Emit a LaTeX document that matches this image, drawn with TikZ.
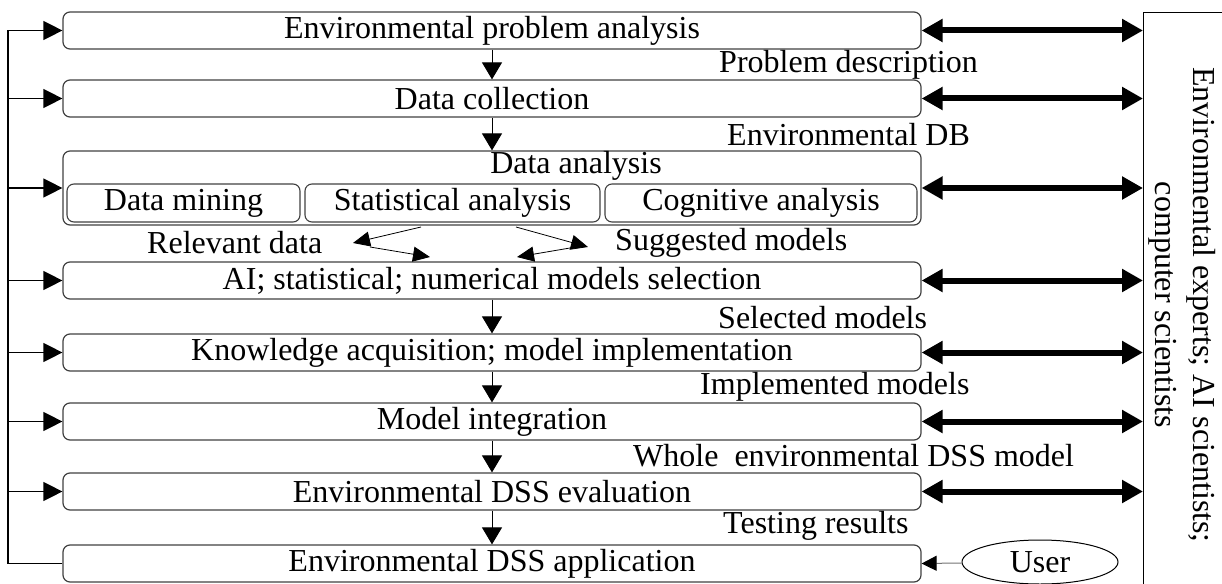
\documentclass[tikz,border=0pt]{standalone}
\usepackage{fontspec}
\setmainfont{Liberation Serif}
\usetikzlibrary{arrows.meta,shapes.geometric}
\begin{document}
\begin{tikzpicture}[x=1pt,y=-1pt,
  every node/.style={font=\fontsize{32}{38}\selectfont, inner sep=0pt},
  stage/.style={draw=black!75, line width=1.2pt, rounded corners=7pt,
    minimum width=858pt, minimum height=37pt},
  sub/.style={draw=black!75, line width=1.1pt, rounded corners=7pt, minimum height=38pt},
  flow/.style={line width=1pt, -{Triangle[length=17pt,width=20pt]}},
  back/.style={line width=1.3pt, -{Triangle[length=19pt,width=19pt]}},
  link/.style={line width=6pt, {Triangle[length=21pt,width=22pt]}-{Triangle[length=21pt,width=22pt]}},
  hint/.style={line width=0.8pt, -{Triangle[length=17pt,width=15pt]}},
  lbl/.style={anchor=west}]
\useasboundingbox (0,0) rectangle (1222,583);
\clip (0,0) rectangle (1222,583);

% main stages
\node[stage] (b1) at (492,30.5)  {Environmental problem analysis};
\node[stage] (b2) at (492,98.5)  {Data collection};
\node[stage, minimum height=74pt] (b3) at (492,188) {};
\node (b3t) at (576,166) {Data analysis};
\node[sub, minimum width=233pt] (s1) at (183.5,203) {Data mining};
\node[sub, minimum width=295pt] (s2) at (452.5,203) {Statistical analysis};
\node[sub, minimum width=312pt] (s3) at (761,203)   {Cognitive analysis};
\node[stage] (b4) at (492,280.5) {AI; statistical; numerical models selection};
\node[stage] (b5) at (492,352.5) {Knowledge acquisition; model implementation};
\node[stage] (b6) at (492,421.5) {Model integration};
\node[stage] (b7) at (492,491.5) {Environmental DSS evaluation};
\node[stage] (b8) at (492,563.5) {Environmental DSS application};

% flow between stages
\draw[flow] (b1.south) -- (b2.north);
\draw[flow] (b2.south) -- (b3.north);
\draw[flow] (b4.south) -- (b5.north);
\draw[flow] (b5.south) -- (b6.north);
\draw[flow] (b6.south) -- (b7.north);
\draw[flow] (b7.south) -- (b8.north);

% products of each stage
\node[lbl] (l1) at (719,65)  {Problem description};
\node[lbl] (l2) at (727,135) {Environmental DB};
\node[lbl] (l4) at (718,318) {Selected models};
\node[lbl] (l5) at (700,387) {Implemented models};
\node[lbl] (l6) at (633,456) {Whole\ \ environmental DSS model};
\node[lbl] (l7) at (723,526) {Testing results};
\node[lbl] (rd) at (147,243) {Relevant data};
\node[lbl] (sm) at (615,243) {Suggested models};

% analysis outputs towards model selection
\coordinate (a1) at (421,227); \coordinate (a2) at (353,243);
\coordinate (a3) at (370,247); \coordinate (a4) at (430,257);
\coordinate (c1) at (516,227); \coordinate (c2) at (588,247);
\coordinate (c3) at (570,248); \coordinate (c4) at (517,257);
\draw[hint] (a1) -- (a2);
\draw[hint] (a3) -- (a4);
\draw[hint] (c1) -- (c2);
\draw[hint] (c3) -- (c4);

% feedback loop on the left
\coordinate (fb) at (8,30.5);
\draw[line width=1.3pt] (b8.west) -| (fb);
\foreach \b in {b1,b2,b3,b4,b5,b6,b7}
  \draw[back] (fb |- \b.west) -- (\b.west);

% people involved
\node[draw, line width=1pt, anchor=north west, minimum width=100pt,
  minimum height=600pt] (team) at (1143,12) {};
\node[rotate=-90, align=center] (team text) at (1182,305)
  {Environmental experts; AI scientists;\\computer scientists};
\foreach \b in {b1,b2,b3,b4,b5,b6,b7}
  \draw[link] (\b.east) -- (\b.east -| team.west);

% user
\node[ellipse, draw, line width=1pt, minimum width=156pt, minimum height=44pt] (user) at (1040,562) {User};
\draw[line width=1pt, draw=black!55, -{Triangle[length=15pt,width=15pt,color=black]}] (user) -- (b8.east);
\end{tikzpicture}
\end{document}
